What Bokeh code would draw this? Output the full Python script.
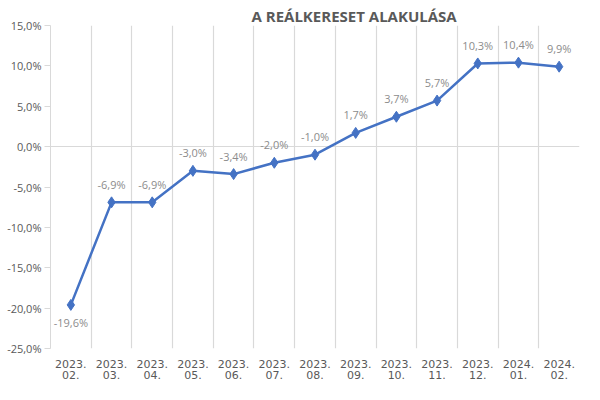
from bokeh.plotting import figure
from bokeh.models import FactorRange, Range1d, FixedTicker, ColumnDataSource
from bokeh.core.properties import value
from bokeh.embed import file_html
from bokeh.resources import INLINE

# Data
months = ["2023.\n02.", "2023.\n03.", "2023.\n04.", "2023.\n05.", "2023.\n06.",
          "2023.\n07.", "2023.\n08.", "2023.\n09.", "2023.\n10.", "2023.\n11.",
          "2023.\n12.", "2024.\n01.", "2024.\n02."]
real_wage = [-19.6, -6.9, -6.9, -3.0, -3.4, -2.0, -1.0, 1.7, 3.7, 5.7, 10.3, 10.4, 9.9]
y_ticks = [-25, -20, -15, -10, -5, 0, 5, 10, 15]
y_tick_labels = ["-25,0%", "-20,0%", "-15,0%", "-10,0%", "-5,0%", "0,0%", "5,0%", "10,0%", "15,0%"]
title_text = "A REÁLKERESET ALAKULÁSA"

# Styles
BLUE = "#4472c4"
GRID = "#d9d9d9"
AXIS_TEXT = "#595959"
LABEL_TEXT = "#8c8c8c"
FONT = "Open Sans"

labels = [f"{v:.1f}".replace(".", ",") + "%" for v in real_wage]
# first label sits under its point, the rest above
offsets = [18 if i == 0 else -18 for i in range(len(real_wage))]

src = ColumnDataSource(data=dict(month=months, val=real_wage, label=labels, off=offsets))

p = figure(width=584, height=384, output_backend="svg", toolbar_location=None,
           title=title_text,
           x_range=FactorRange(factors=months, range_padding=0),
           y_range=Range1d(-25, 15),
           min_border_left=50, min_border_right=5, min_border_top=25, min_border_bottom=28)
p.outline_line_color = None
p.background_fill_color = "white"
p.border_fill_color = "white"

p.title.align = "left"
p.title.offset = 201
p.title.standoff = 0
p.title.text_font = FONT
p.title.text_font_size = "15px"
p.title.text_font_style = "bold"
p.title.text_color = AXIS_TEXT

# grid: vertical lines at the category boundaries, only the zero line horizontally
p.xgrid.ticker = FixedTicker(ticks=list(range(len(months) + 1)))
p.xgrid.grid_line_color = GRID
p.xgrid.grid_line_width = 1.2
p.ygrid.ticker = FixedTicker(ticks=[0])
p.ygrid.grid_line_color = GRID
p.ygrid.grid_line_width = 1.2

p.yaxis.ticker = FixedTicker(ticks=y_ticks)
p.yaxis.major_label_overrides = dict(zip(y_ticks, y_tick_labels))
p.yaxis.axis_line_color = GRID
p.yaxis.major_tick_line_color = GRID
p.yaxis.major_tick_out = 6
p.yaxis.major_tick_in = 0
p.yaxis.minor_tick_line_color = None
p.yaxis.major_label_standoff = 3
p.yaxis.major_label_text_font = FONT
p.yaxis.major_label_text_font_size = "11px"
p.yaxis.major_label_text_color = AXIS_TEXT

p.xaxis.axis_line_color = None
p.xaxis.major_tick_line_color = None
p.xaxis.minor_tick_line_color = None
p.xaxis.major_label_standoff = 3
p.xaxis.major_label_text_font = "DejaVu Sans"
p.xaxis.major_label_text_font_size = "11px"
p.xaxis.major_label_text_color = AXIS_TEXT
p.xaxis.major_label_text_line_height = 0.85

p.line(x="month", y="val", source=src, line_color=BLUE, line_width=2.5)
p.scatter(x="month", y="val", source=src, marker="diamond", size=11,
          fill_color=BLUE, line_color=BLUE)
p.text(x="month", y="val", text="label", source=src, y_offset="off",
       text_align="center", text_baseline="middle",
       text_font=value(FONT), text_font_size="11px", text_color=LABEL_TEXT)

open("out.html", "w").write(file_html(p, INLINE))
